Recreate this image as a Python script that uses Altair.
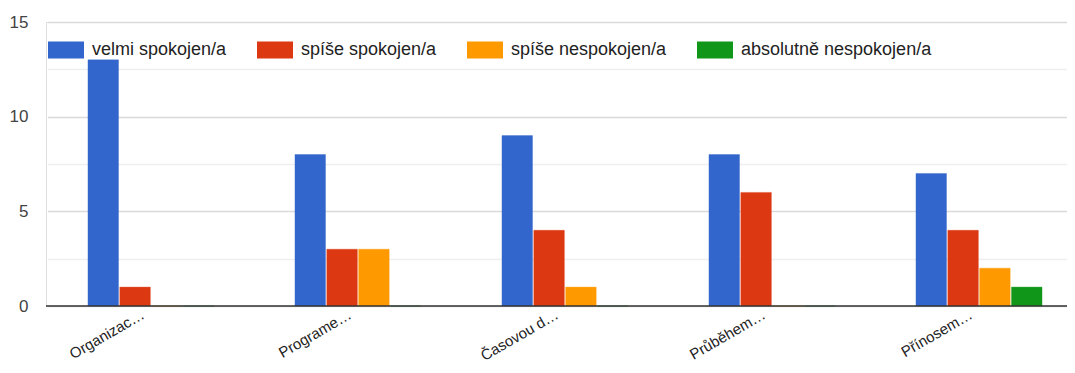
import altair as alt
import pandas as pd

categories = ["Organizac…", "Programe…", "Časovou d…", "Průběhem…", "Přínosem…"]
series = ["velmi spokojen/a", "spíše spokojen/a", "spíše nespokojen/a", "absolutně nespokojen/a"]
velmi_spokojen = [13, 8, 9, 8, 7]
spise_spokojen = [1, 3, 4, 6, 4]
spise_nespokojen = [0, 3, 1, 0, 2]
absolutne_nespokojen = [0, 0, 0, 0, 1]
colors = ["#3366cc", "#dc3912", "#ff9900", "#109618"]

rows = []
for s, vals in zip(series, [velmi_spokojen, spise_spokojen, spise_nespokojen, absolutne_nespokojen]):
    for c, v in zip(categories, vals):
        rows.append({"otazka": c, "odpoved": s, "pocet": v})
df = pd.DataFrame(rows)

FONT = "Liberation Sans"

chart = alt.Chart(df).mark_bar(strokeWidth=1, strokeOpacity=0.35).encode(
    x=alt.X("otazka:N", sort=categories, title=None,
            scale=alt.Scale(range=[1.5, 1036.5], paddingInner=0.391, paddingOuter=0.1955),
            axis=alt.Axis(labelAngle=330, labelAlign="right", labelBaseline="middle",
                          labelFontSize=15, labelColor="#222222", labelFont=FONT,
                          ticks=False, domain=False, labelPadding=7, labelOffset=-8,
                          labelLimit=300)),
    xOffset=alt.XOffset("odpoved:N", sort=series,
                        scale=alt.Scale(domain=series, paddingInner=0.04)),
    y=alt.Y("pocet:Q", title=None,
            scale=alt.Scale(domain=[0, 15], nice=False),
            axis=alt.Axis(values=[0, 2.5, 5, 7.5, 10, 12.5, 15],
                          labelExpr="datum.value % 5 === 0 ? datum.label : ''",
                          gridColor=alt.ExprRef("datum.value % 5 === 0 ? '#d9d9d9' : '#eeeeee'"),
                          gridWidth=1.5,
                          ticks=False, domain=False, labelPadding=18,
                          labelFontSize=17, labelColor="#444444", labelFont=FONT)),
    color=alt.Color("odpoved:N", sort=series, title=None,
                    scale=alt.Scale(domain=series, range=colors),
                    legend=alt.Legend(orient="none", legendX=2, legendY=10, direction="horizontal",
                                      symbolType="M-1,-0.472H1V0.472H-1Z", symbolSize=1296,
                                      symbolStrokeWidth=0, symbolOpacity=1,
                                      labelFontSize=18, labelFont=FONT, labelColor="#222222",
                                      labelOffset=8, columnPadding=30, padding=0, labelLimit=400)),
    stroke=alt.Stroke("odpoved:N", sort=series, scale=alt.Scale(domain=series, range=colors), legend=None),
)

zero = alt.Chart(pd.DataFrame({"z": [0]})).mark_rule(color="#333333", strokeWidth=1.5).encode(y="z:Q")

final = alt.layer(chart, zero).properties(
    width=1021, height=284,
    autosize=alt.AutoSizeParams(type="none"),
    padding={"left": 38, "top": 14, "right": 0, "bottom": 58},
).configure_view(stroke=None).configure(background="white")

final.save("out.html", embed_options={"renderer": "svg", "actions": False})
